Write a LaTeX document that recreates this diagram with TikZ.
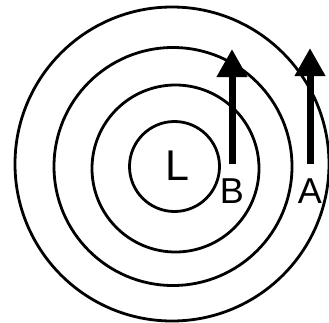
\documentclass[tikz,border=0pt]{standalone}
\usepackage{fontspec}
\setmainfont{Liberation Sans}
\usetikzlibrary{arrows.meta}

\begin{document}
\begin{tikzpicture}[x=1pt, y=-1pt]
            \useasboundingbox (0,0) rectangle (329,322);
            % rings round the low
            \draw[line width=2.8pt] (174.5,166.5) circle (45);
            \draw[line width=2.8pt] (175.5,168.5) circle (83.5);
            \draw[line width=2.8pt] (173,166.5) circle (119);
            \draw[line width=2.8pt] (172,164) circle (157);
            \node[font=\fontsize{43}{43}\selectfont, inner sep=0pt] (low) at (177,166) {L};
            % wind arrows
            \coordinate (Bfoot) at (232,164);
            \coordinate (Btip) at (232,49);
            \coordinate (Afoot) at (310,164);
            \coordinate (Atip) at (310,48);
            \draw[line width=7pt, -{Triangle[width=29pt,length=28pt]}] (Bfoot) -- (Btip);
            \draw[line width=7pt, -{Triangle[width=29pt,length=28pt]}] (Afoot) -- (Atip);
            \node[font=\fontsize{36}{36}\selectfont, inner sep=0pt] (labelB) at (232,191) {B};
            \node[font=\fontsize{36}{36}\selectfont, inner sep=0pt] (labelA) at (310,191) {A};
        \end{tikzpicture}
\end{document}
